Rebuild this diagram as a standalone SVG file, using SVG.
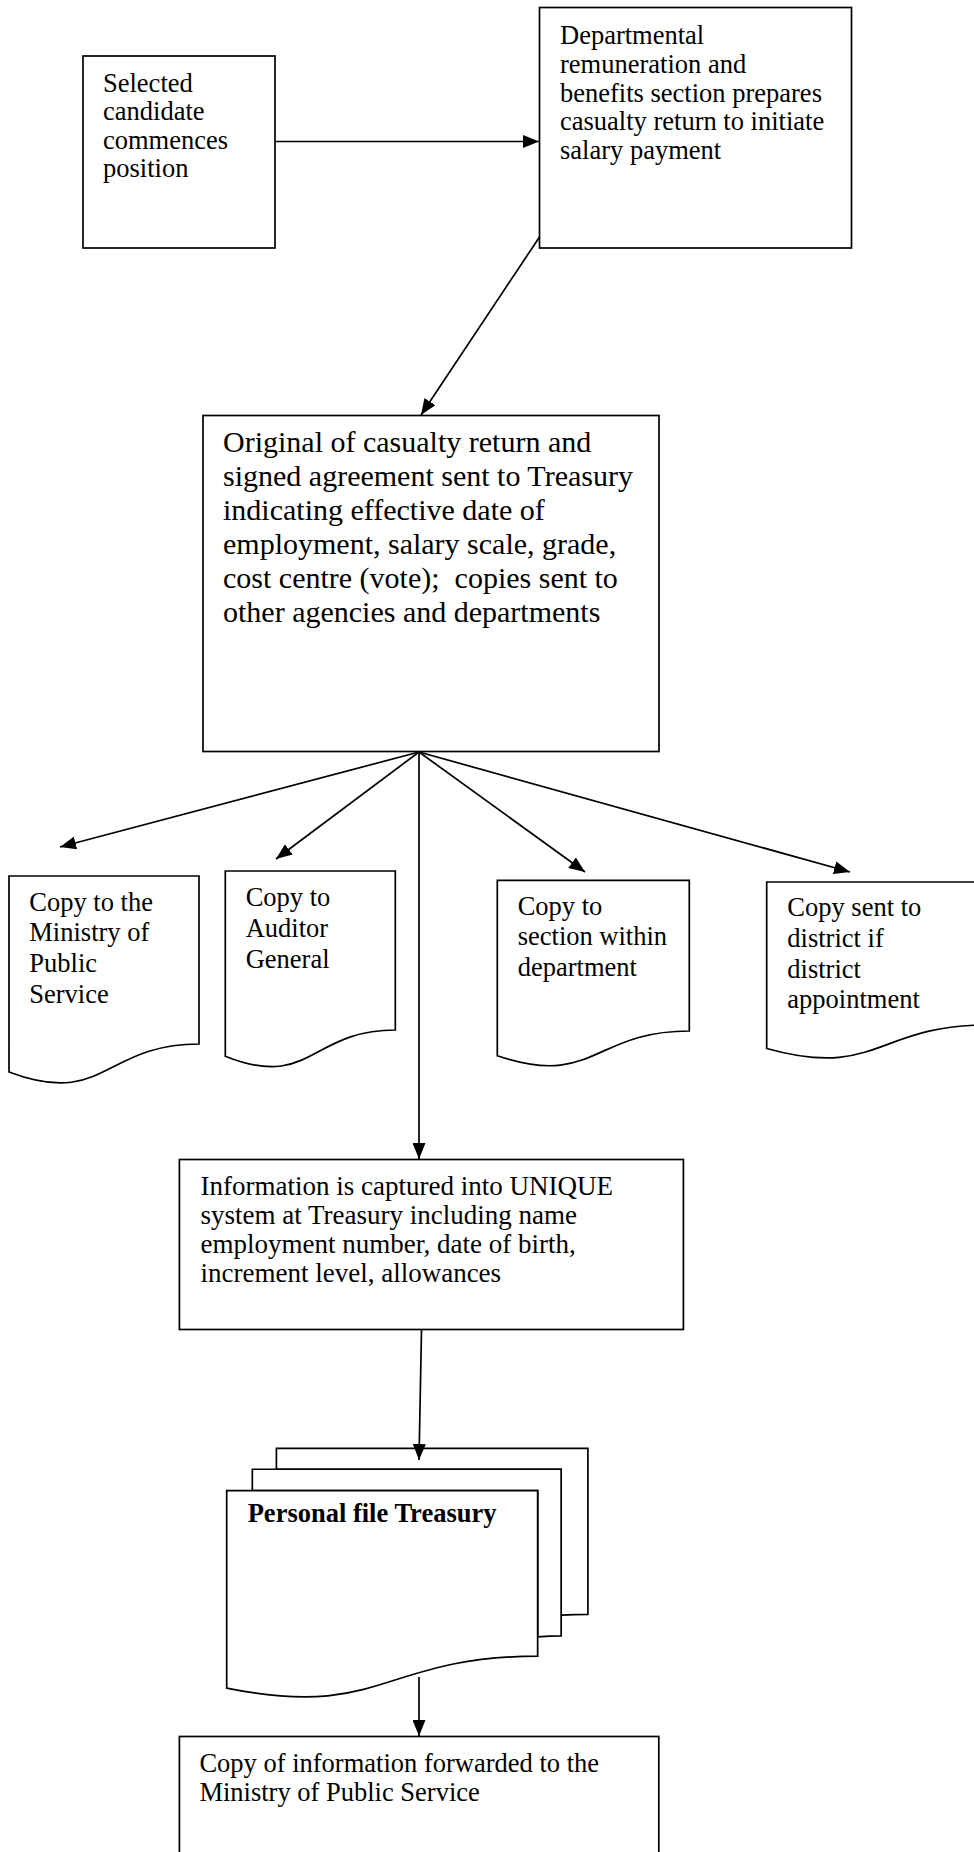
<svg xmlns="http://www.w3.org/2000/svg" width="974" height="1852" viewBox="0 0 974 1852">
<style>
.box{fill:#fff;stroke:#000;stroke-width:1.7}
.ln{fill:none;stroke:#000;stroke-width:1.7}
.t{font-family:"Liberation Serif","Times New Roman",serif;font-size:26.5px;fill:#000}
.t30{font-family:"Liberation Serif","Times New Roman",serif;font-size:30px;fill:#000}
.b{font-family:"Liberation Serif","Times New Roman",serif;font-size:26.5px;font-weight:bold;fill:#000}
</style>
<defs>
<marker id="ah" markerUnits="userSpaceOnUse" markerWidth="17" markerHeight="13" refX="16" refY="6.5" orient="auto">
<path d="M0,0 L16,6.5 L0,13 z" fill="#000"/>
</marker>
</defs>
<rect width="974" height="1852" fill="#fff"/>

<g id="n1">
<rect class="box" x="83" y="56" width="192" height="192"/>
<text class="t" style="font-size:26.5px"><tspan x="103" y="91.5">Selected</tspan><tspan x="103" y="120">candidate</tspan><tspan x="103" y="148.5">commences</tspan><tspan x="103" y="177">position</tspan></text>
</g>

<g id="n2">
<rect class="box" x="539.5" y="7.5" width="312" height="240.5"/>
<text class="t"><tspan x="560" y="44">Departmental</tspan><tspan x="560" y="72.8">remuneration and</tspan><tspan x="560" y="101.6">benefits section prepares</tspan><tspan x="560" y="130.4">casualty return to initiate</tspan><tspan x="560" y="159.2">salary payment</tspan></text>
</g>

<g id="n3">
<rect class="box" x="203" y="415.5" width="456" height="336"/>
<text class="t30" xml:space="preserve"><tspan x="223" y="452">Original of casualty return and</tspan><tspan x="223" y="486">signed agreement sent to Treasury</tspan><tspan x="223" y="520">indicating effective date of</tspan><tspan x="223" y="554">employment, salary scale, grade,</tspan><tspan x="223" y="588">cost centre (vote);  copies sent to</tspan><tspan x="223" y="622">other agencies and departments</tspan></text>
</g>

<g id="d1">
<path class="box" d="M9,876 H199 V1044 C104,1044 104,1108 9,1072 Z"/>
<text class="t"><tspan x="29.3" y="910.5">Copy to the</tspan><tspan x="29.3" y="941.3">Ministry of</tspan><tspan x="29.3" y="972.1">Public</tspan><tspan x="29.3" y="1002.9">Service</tspan></text>
</g>

<g id="d2">
<path class="box" d="M225.3,871 H395.3 V1030 C310.3,1030 310.3,1090.5 225.3,1056.2 Z"/>
<text class="t"><tspan x="245.7" y="905.5">Copy to</tspan><tspan x="245.7" y="936.5">Auditor</tspan><tspan x="245.7" y="967.5">General</tspan></text>
</g>

<g id="d3">
<path class="box" d="M497.3,880.3 H689.3 V1031 C593.3,1031 593.3,1088.3 497.3,1055.8 Z"/>
<text class="t"><tspan x="517.7" y="914.5">Copy to</tspan><tspan x="517.7" y="945.2">section within</tspan><tspan x="517.7" y="975.9">department</tspan></text>
</g>

<g id="d4">
<path class="box" d="M766.7,882 H987 V1025 C876.8,1025 876.8,1079.4 766.7,1048.5 Z"/>
<text class="t"><tspan x="787.3" y="916">Copy sent to</tspan><tspan x="787.3" y="946.8">district if</tspan><tspan x="787.3" y="977.6">district</tspan><tspan x="787.3" y="1008.4">appointment</tspan></text>
</g>

<g id="n4">
<rect class="box" x="179.4" y="1159.5" width="504" height="170"/>
<text class="t" style="font-size:27px"><tspan x="200.5" y="1195">Information is captured into UNIQUE</tspan><tspan x="200.5" y="1224">system at Treasury including name</tspan><tspan x="200.5" y="1253">employment number, date of birth,</tspan><tspan x="200.5" y="1282">increment level, allowances</tspan></text>
</g>

<g id="n5">
<path class="box" d="M276.4,1469.24 V1448.3 H587.9 V1614.34 C574.5,1614.34 561.14,1615.2 561.14,1615.2 V1469.24 Z"/>
<path class="box" d="M252.32,1490.7 V1469.24 H561.14 V1635.8 C549.4,1635.8 537.65,1636.95 537.65,1636.95 V1490.7 Z"/>
<path class="box" d="M226.7,1688.07 C382.18,1719.9 382.18,1656.22 537.65,1656.22 V1490.7 H226.7 Z"/>
<text class="b" x="247.7" y="1522.3">Personal file Treasury</text>
</g>

<g id="n6">
<rect class="box" x="179.4" y="1736.5" width="479.4" height="130"/>
<text class="t"><tspan x="199.4" y="1771.7">Copy of information forwarded to the</tspan><tspan x="199.4" y="1800.5">Ministry of Public Service</tspan></text>
</g>

<g id="connectors">
<line class="ln" x1="275" y1="141.5" x2="539" y2="141.5" marker-end="url(#ah)"/>
<line class="ln" x1="539.5" y1="237" x2="421" y2="415" marker-end="url(#ah)"/>
<line class="ln" x1="419" y1="752" x2="60" y2="847" marker-end="url(#ah)"/>
<line class="ln" x1="419" y1="752" x2="276" y2="859" marker-end="url(#ah)"/>
<line class="ln" x1="419" y1="752" x2="419" y2="1159" marker-end="url(#ah)"/>
<line class="ln" x1="419" y1="752" x2="585" y2="872" marker-end="url(#ah)"/>
<line class="ln" x1="419" y1="752" x2="850" y2="872" marker-end="url(#ah)"/>
<line class="ln" x1="421.5" y1="1330" x2="419" y2="1460" marker-end="url(#ah)"/>
<line class="ln" x1="419" y1="1677" x2="419" y2="1736" marker-end="url(#ah)"/>
</g>
</svg>
